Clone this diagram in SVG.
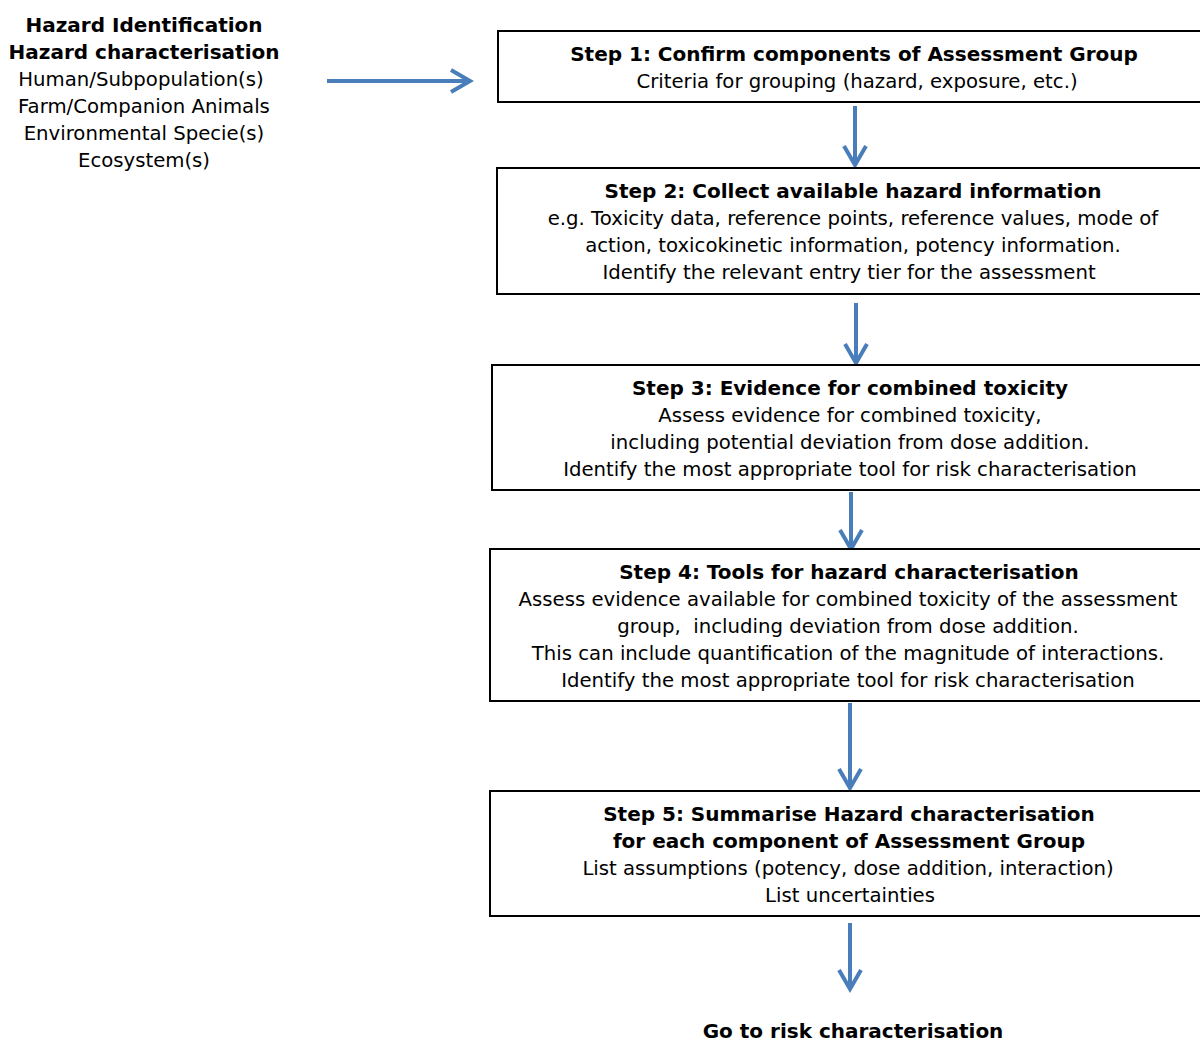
<svg xmlns="http://www.w3.org/2000/svg" width="1200" height="1041" viewBox="0 0 1200 1041">
<style>
text{font-family:"DejaVu Sans","Verdana",sans-serif;font-size:19.7px;fill:#000;text-anchor:middle}
.b{font-weight:bold;font-size:20px}
.box{fill:#fff;stroke:#000;stroke-width:2}
.ar{fill:none;stroke:#4a7ebb;stroke-width:4;stroke-linejoin:miter}
</style>
<rect width="1200" height="1041" fill="#fff"/>
<g id="connectors">
<path class="ar" d="M327 81H468M451 70L470 81L451 92"/>
<path class="ar" d="M855 106V163M844 146L855 165L866 146"/>
<path class="ar" d="M856 303V360M845 344L856 363L867 344"/>
<path class="ar" d="M851 492V547M840 530L851 549L862 530"/>
<path class="ar" d="M850 703V786M839 769L850 788L861 769"/>
<path class="ar" d="M850 923V987M839 970L850 989L861 970"/>
</g>
<g id="source">
<text x="144" y="32" class="b">Hazard Identification</text>
<text x="144" y="59" class="b">Hazard characterisation</text>
<text x="141" y="86">Human/Subpopulation(s)</text>
<text x="144" y="113">Farm/Companion Animals</text>
<text x="144" y="140">Environmental Specie(s)</text>
<text x="144" y="167">Ecosystem(s)</text>
</g>
<g id="step1">
<rect class="box" x="498" y="31" width="720" height="71"/>
<text x="854" y="61" class="b">Step 1: Confirm components of Assessment Group</text>
<text x="857" y="88">Criteria for grouping (hazard, exposure, etc.)</text>
</g>
<g id="step2">
<rect class="box" x="497" y="168" width="720" height="126"/>
<text x="853" y="198" class="b">Step 2: Collect available hazard information</text>
<text x="853" y="225">e.g. Toxicity data, reference points, reference values, mode of</text>
<text x="853" y="252">action, toxicokinetic information, potency information.</text>
<text x="849" y="279">Identify the relevant entry tier for the assessment</text>
</g>
<g id="step3">
<rect class="box" x="492" y="365" width="725" height="125"/>
<text x="850" y="395" class="b">Step 3: Evidence for combined toxicity</text>
<text x="850" y="422">Assess evidence for combined toxicity,</text>
<text x="850" y="449">including potential deviation from dose addition.</text>
<text x="850" y="476">Identify the most appropriate tool for risk characterisation</text>
</g>
<g id="step4">
<rect class="box" x="490" y="549" width="727" height="152"/>
<text x="849" y="579" class="b">Step 4: Tools for hazard characterisation</text>
<text x="848" y="606">Assess evidence available for combined toxicity of the assessment</text>
<text x="848" y="633">group,&#160; including deviation from dose addition.</text>
<text x="848" y="660">This can include quantification of the magnitude of interactions.</text>
<text x="848" y="687">Identify the most appropriate tool for risk characterisation</text>
</g>
<g id="step5">
<rect class="box" x="490" y="791" width="727" height="125"/>
<text x="849" y="821" class="b">Step 5: Summarise Hazard characterisation</text>
<text x="849" y="848" class="b">for each component of Assessment Group</text>
<text x="848" y="875">List assumptions (potency, dose addition, interaction)</text>
<text x="850" y="902">List uncertainties</text>
</g>
<g id="final">
<text x="853" y="1038" class="b">Go to risk characterisation</text>
</g>
</svg>
